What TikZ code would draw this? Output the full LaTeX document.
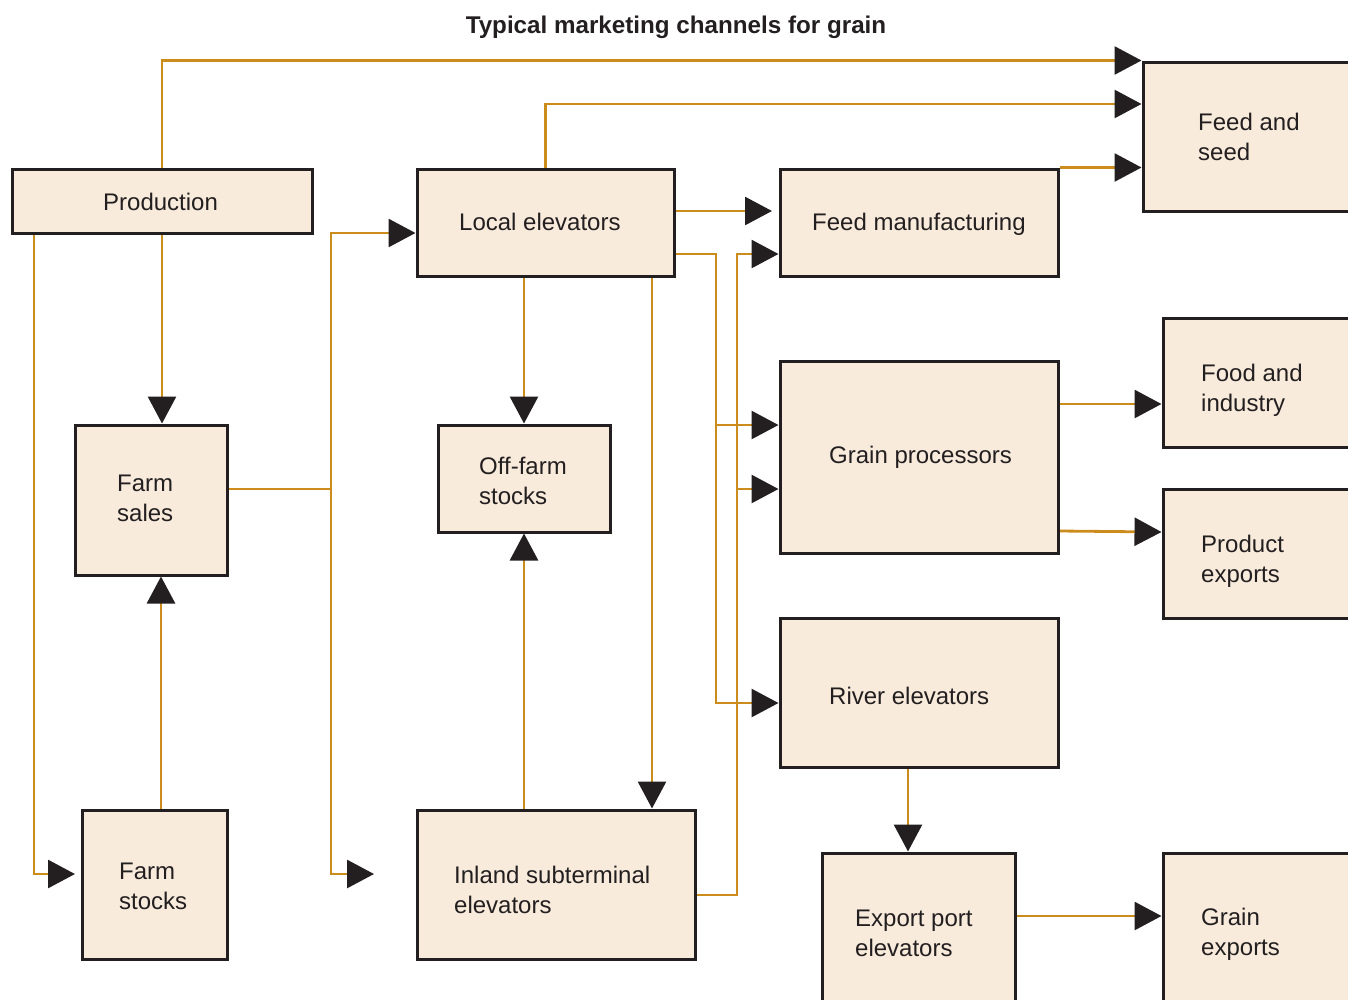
\documentclass[tikz,border=0pt]{standalone}
\usepackage{fontspec}
\setmainfont{Liberation Sans}
\usetikzlibrary{arrows.meta}
\pgfdeclarelayer{bg}
\pgfsetlayers{bg,main}
\definecolor{flow}{RGB}{204,140,28}
\definecolor{boxfill}{RGB}{248,235,220}
\definecolor{ink}{RGB}{35,31,32}
\begin{document}
\begin{tikzpicture}[x=1pt, y=-1pt,
  box/.style={draw=ink, fill=boxfill, line width=3pt, rectangle, inner sep=0pt},
  % base anchor of a two-line label sits on its last line
  txt/.style={inner sep=0pt, anchor=base west, align=left, text=ink,
    font=\fontsize{24}{30}\selectfont},
  conn/.style={draw=flow, line width=2.8pt,
    -{Triangle[length=27pt,width=28pt,color=ink]}},
  plain/.style={draw=flow, line width=2.8pt}]
\useasboundingbox (0,0) rectangle (1348,999);
\clip (0,0) rectangle (1348,999);

% title
\node[inner sep=0pt, anchor=base, text=ink, font=\fontsize{24.2}{30}\selectfont\bfseries]
  (title) at (676,33) {Typical marketing channels for grain};

% boxes
\node[box, minimum width=300pt, minimum height=64pt]  (prod)   at (162,201)    {};
\node[box, minimum width=257pt, minimum height=107pt] (loc)    at (545.5,222.5) {};
\node[box, minimum width=278pt, minimum height=107pt] (fm)     at (919,222.5)  {};
\node[box, minimum width=227pt, minimum height=149pt] (fs)     at (1256.5,136.5) {};
\node[box, minimum width=152pt, minimum height=150pt] (fsales) at (151,500)    {};
\node[box, minimum width=172pt, minimum height=107pt] (off)    at (524,478.5)  {};
\node[box, minimum width=278pt, minimum height=192pt] (gp)     at (919,457)    {};
\node[box, minimum width=207pt, minimum height=129pt] (fi)     at (1266.5,382.5) {};
\node[box, minimum width=207pt, minimum height=129pt] (pe)     at (1266.5,553.5) {};
\node[box, minimum width=278pt, minimum height=149pt] (re)     at (919,692.5)  {};
\node[box, minimum width=145pt, minimum height=149pt] (fst)    at (154.5,884.5) {};
\node[box, minimum width=278pt, minimum height=149pt] (inl)    at (556,884.5)  {};
\node[box, minimum width=193pt, minimum height=167pt] (ep)     at (918.5,936.5) {};
\node[box, minimum width=207pt, minimum height=167pt] (ge)     at (1266.5,936.5) {};

% labels
\node[txt] (tprod)   at (103,210)  {Production};
\node[txt] (tloc)    at (459,230)  {Local elevators};
\node[txt] (tfm)     at (812,230)  {Feed manufacturing};
\node[txt] (tfs)     at (1198,160) {Feed and\\seed};
\node[txt] (tfsales) at (117,521)  {Farm\\sales};
\node[txt] (toff)    at (479,504)  {Off-farm\\stocks};
\node[txt] (tgp)     at (829,463)  {Grain processors};
\node[txt] (tfi)     at (1201,411) {Food and\\industry};
\node[txt] (tpe)     at (1201,582) {Product\\exports};
\node[txt] (tre)     at (829,704)  {River elevators};
\node[txt] (tfst)    at (119,909)  {Farm\\stocks};
\node[txt] (tinl)    at (454,913)  {Inland subterminal\\elevators};
\node[txt] (tep)     at (855,956)  {Export port\\elevators};
\node[txt] (tge)     at (1201,955) {Grain\\exports};

% free ends and junctions of the flow lines
\coordinate (jfarm) at (331,489);
\coordinate (jlocA) at (716,254);
\coordinate (jlocB) at (716,425);
\coordinate (jinlA) at (737,254);
\coordinate (jinlB) at (737,489);
\coordinate (endfm) at (772,211);
\coordinate (endinl) at (374,874);
\coordinate (endfst) at (75,874);

\begin{pgfonlayer}{bg}
  % production
  \draw[conn] (prod.north) |- (fs.north west);
  \draw[conn] (prod.south) -- (prod.south |- fsales.north);
  \draw[conn] (prod.south -| 34,0) |- (endfst);
  \draw[conn] (fst.north -| 161,0) -- (fsales.south -| 161,0);
  % farm sales to local and inland elevators
  \draw[plain] (fsales.east |- jfarm) -- (jfarm);
  \draw[conn] (jfarm) |- (loc.west |- 0,233);
  \draw[conn] (jfarm) |- (endinl);
  % local elevators
  \draw[conn] (loc.north) |- (fs.west |- 0,104);
  \draw[conn] (loc.east |- 0,211) -- (endfm);
  \draw[conn] (loc.east |- jlocA) -- (jlocA) |- (re.west |- 0,703);
  \draw[conn] (jlocB) -- (gp.west |- jlocB);
  \draw[conn] (loc.south -| off.north) -- (off.north);
  \draw[conn] (loc.south -| 652,0) -- (inl.north -| 652,0);
  % inland subterminal elevators
  \draw[conn] (inl.north -| off.south) -- (off.south);
  \draw[conn] (inl.east |- 0,895) -| (jinlA) -- (fm.west |- jinlA);
  \draw[conn] (jinlB) -- (gp.west |- jinlB);
  % feed manufacturing
  \draw[conn] (fm.north east) -- (fs.west |- fm.north east);
  % grain processors
  \draw[conn] (gp.east |- 0,404) -- (fi.west |- 0,404);
  \draw[conn] (gp.east |- 0,531) -- (pe.west |- 0,532);
  % river and export port elevators
  \draw[conn] (re.south -| 908,0) -- (ep.north -| 908,0);
  \draw[conn] (ep.east |- 0,916) -- (ge.west |- 0,916);
\end{pgfonlayer}
\end{tikzpicture}
\end{document}
